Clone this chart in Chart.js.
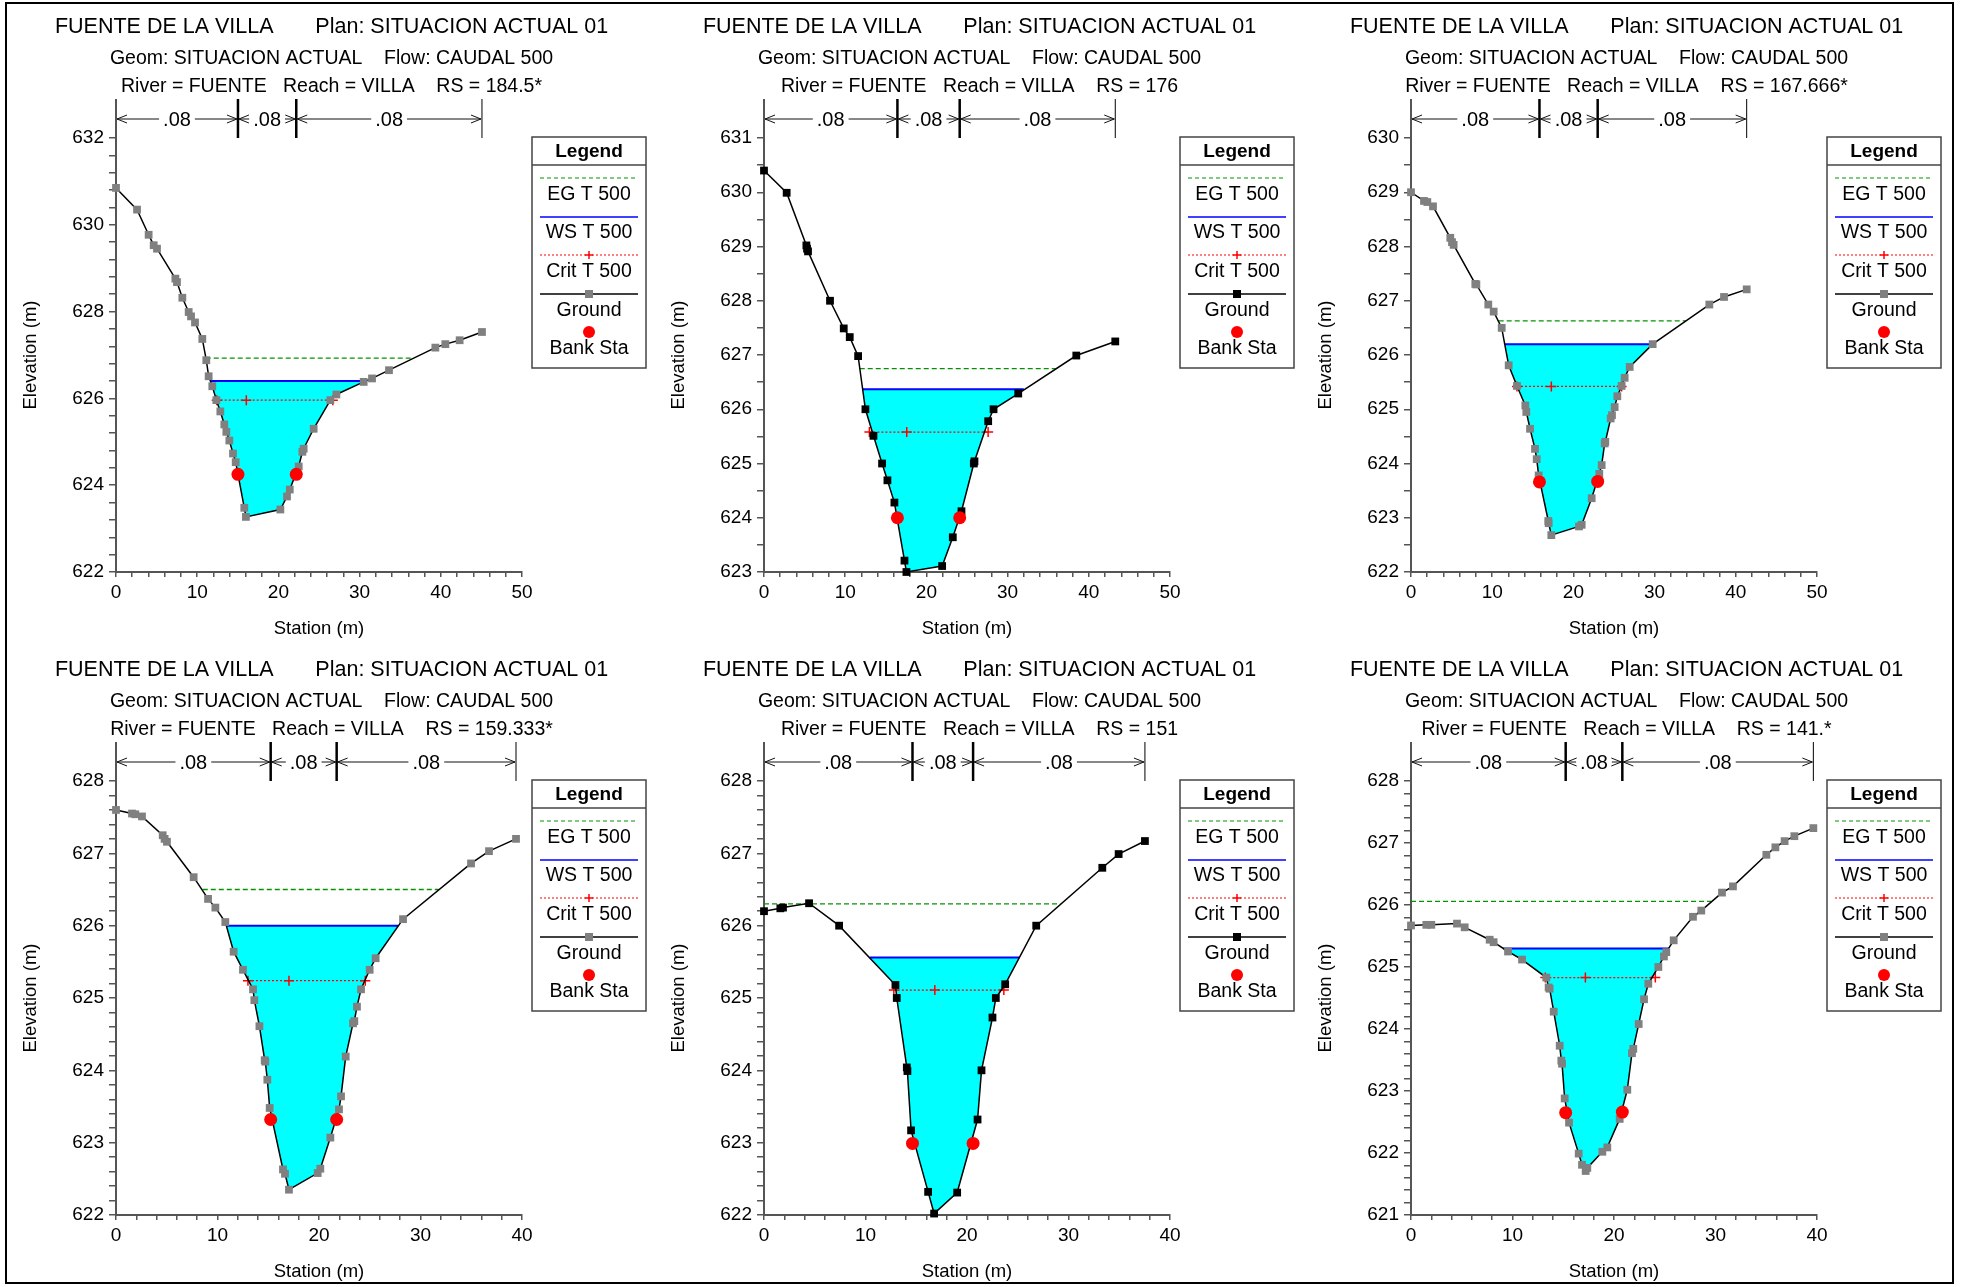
<!DOCTYPE html>
<html>
<head>
<meta charset="utf-8">
<script src="https://cdn.jsdelivr.net/npm/chart.js@4.4.0/dist/chart.umd.min.js"></script>
<style>
  html, body { margin: 0; padding: 0; background: #fff; }
  body { width: 1961px; height: 1287px; position: relative; overflow: hidden; }
  canvas { position: absolute; }
  #frame { position: absolute; left: 5px; top: 2px; width: 1945px; height: 1278px; border: 2px solid #000; pointer-events: none; }
</style>
</head>
<body>
<canvas id="c1" width="646" height="643" style="left:8px;top:0px"></canvas>
<canvas id="c2" width="646" height="643" style="left:656px;top:0px"></canvas>
<canvas id="c3" width="646" height="643" style="left:1303px;top:0px"></canvas>
<canvas id="c4" width="646" height="643" style="left:8px;top:643px"></canvas>
<canvas id="c5" width="646" height="643" style="left:656px;top:643px"></canvas>
<canvas id="c6" width="646" height="643" style="left:1303px;top:643px"></canvas>
<div id="frame"></div>
<script>
// ---- data (station m, elevation m) ----

// RS = 184.5*
const sta1 = [0, 2.59, 4.02, 4.64, 5.05, 7.31, 7.51, 8.17, 8.95, 9.24, 9.73, 10.63, 11.12, 11.41, 11.86, 12.36, 12.85, 13.34, 13.59, 13.96,
  14.41, 14.74, 15.8, 16.0, 20.24, 21.06, 21.4, 22.5, 22.95, 23.11, 24.34, 26.4, 27.14, 30.5, 31.53, 33.62, 39.33, 40.56, 42.32, 45.07];
const elev1 = [630.85, 630.35, 629.77, 629.53, 629.45, 628.76, 628.68, 628.32, 627.99, 627.89, 627.75, 627.37, 626.88, 626.51, 626.28, 625.96, 625.70, 625.40, 625.23, 625.03,
  624.73, 624.53, 623.48, 623.27, 623.44, 623.74, 623.90, 624.43, 624.77, 624.84, 625.30, 625.96, 626.09, 626.38, 626.46, 626.65, 627.17, 627.25, 627.34, 627.53];
const ws1 = [626.40, 11.6, 30.8];          // elevation, left sta, right sta
const eg1 = [626.93, 11.05, 36.45];
const crit1 = [625.96, 12.4, 16.05, 26.7]; // elevation, left, mid, right
const bankSta1 = [15.02, 22.2];
const bankElev1 = [624.25, 624.25];

// RS = 176
const sta2 = [0, 2.79, 5.22, 5.30, 5.42, 8.13, 9.82, 10.56, 11.59, 12.49, 13.48, 14.54, 15.20, 16.06, 17.30, 17.54,
  21.94, 23.25, 24.32, 25.84, 25.92, 27.61, 28.27, 31.31, 38.46, 43.26];
const elev2 = [630.40, 629.99, 629.02, 628.96, 628.91, 628.0, 627.49, 627.33, 626.98, 626.0, 625.51, 625.0, 624.69, 624.28, 623.21, 623.0,
  623.11, 623.64, 624.12, 625.0, 625.04, 625.78, 626.0, 626.29, 626.99, 627.25];
const ws2 = [626.37, 12.16, 32.0];
const eg2 = [626.75, 11.79, 35.9];
const crit2 = [625.58, 12.98, 17.58, 27.6];
const bankSta2 = [16.43, 24.1];
const bankElev2 = [624.0, 624.0];

// RS = 167.666*
const sta3 = [0, 1.60, 2.01, 2.71, 4.84, 5.05, 5.25, 7.92, 8.05, 9.52, 10.18, 11.17, 12.03, 13.05, 14.08, 14.20, 14.66, 15.27, 15.48, 15.72,
  16.91, 16.95, 17.28, 20.69, 21.02, 22.25, 23.19, 23.48, 23.85, 23.93, 24.59, 24.75, 25.08, 25.41, 25.94, 26.31, 26.93, 29.76, 36.74, 38.55, 41.34];
const elev3 = [629.0, 628.84, 628.82, 628.74, 628.16, 628.08, 628.03, 627.31, 627.30, 626.93, 626.80, 626.50, 625.81, 625.43, 625.07, 624.95, 624.64, 624.27, 624.08, 623.78,
  622.94, 622.90, 622.68, 622.84, 622.87, 623.36, 623.81, 623.97, 624.37, 624.40, 624.83, 624.89, 625.04, 625.24, 625.43, 625.58, 625.78, 626.20, 626.93, 627.07, 627.21];
const ws3 = [626.20, 11.58, 29.85];
const eg3 = [626.63, 10.8, 33.87];
const crit3 = [625.42, 13.05, 17.28, 25.94];
const bankSta3 = [15.82, 22.99];
const bankElev3 = [623.66, 623.67];

// RS = 159.333*
const sta4 = [0, 1.58, 1.90, 2.56, 4.60, 4.79, 5.02, 7.65, 9.07, 9.79, 10.77, 11.59, 12.51, 13.50, 13.63, 14.13, 14.65, 14.71, 14.91, 15.14,
  16.45, 16.65, 17.04, 19.87, 20.13, 21.12, 21.97, 22.17, 22.63, 23.35, 23.48, 23.74, 24.14, 24.99, 25.58, 28.28, 34.98, 36.75, 39.41];
const elev4 = [627.60, 627.55, 627.54, 627.51, 627.25, 627.20, 627.16, 626.67, 626.37, 626.25, 626.05, 625.64, 625.39, 625.12, 624.97, 624.61, 624.14, 624.12, 623.87, 623.48,
  622.63, 622.57, 622.35, 622.58, 622.64, 623.07, 623.46, 623.64, 624.19, 624.65, 624.68, 624.88, 625.12, 625.39, 625.55, 626.09, 626.86, 627.03, 627.20];
const ws4 = [626.0, 10.84, 27.8];
const eg4 = [626.5, 8.55, 31.79];
const crit4 = [625.24, 13.0, 17.04, 24.56];
const bankSta4 = [15.24, 21.74];
const bankElev4 = [623.32, 623.32];

// RS = 151
const sta5 = [0, 1.61, 1.87, 4.44, 7.40, 12.95, 13.08, 14.07, 14.13, 14.49, 16.17, 16.76, 19.03, 21.04, 21.43, 22.51, 22.84, 23.76, 26.82, 33.33, 34.94, 37.53];
const elev5 = [626.20, 626.24, 626.25, 626.31, 626.0, 625.18, 625.0, 624.04, 623.99, 623.17, 622.32, 622.02, 622.31, 623.32, 624.0, 624.73, 625.0, 625.19, 626.0, 626.80, 626.99, 627.17];
const ws5 = [625.56, 10.39, 25.18];
const eg5 = [626.30, 0, 29.22];
const crit5 = [625.11, 12.79, 16.83, 23.63];
const bankSta5 = [14.63, 20.6];
const bankElev5 = [622.99, 622.99];

// RS = 141.*
const sta6 = [0, 1.51, 2.0, 4.53, 5.29, 7.75, 8.14, 9.56, 10.94, 13.33, 13.56, 13.66, 14.06, 14.65, 14.81, 14.88, 15.14, 15.57, 16.52, 16.85, 17.21, 17.37,
  18.85, 19.34, 20.56, 21.31, 21.77, 21.9, 22.43, 22.96, 23.38, 24.37, 24.92, 25.15, 25.88, 27.78, 28.60, 30.64, 31.72, 35.01, 35.90, 36.81, 37.77, 39.64];
const elev6 = [625.67, 625.68, 625.68, 625.70, 625.64, 625.44, 625.40, 625.25, 625.12, 624.83, 624.67, 624.65, 624.28, 623.73, 623.49, 623.44, 622.88, 622.49, 621.99, 621.81, 621.71, 621.76,
  622.02, 622.09, 622.55, 623.02, 623.61, 623.68, 624.08, 624.48, 624.73, 625.0, 625.17, 625.24, 625.43, 625.81, 625.91, 626.20, 626.30, 626.81, 626.93, 627.03, 627.11, 627.24];
const ws6 = [625.30, 9.08, 25.39];
const eg6 = [626.06, 0, 29.59];
const crit6 = [624.83, 13.23, 17.18, 24.07];
const bankSta6 = [15.24, 20.82];
const bankElev6 = [622.65, 622.66];

const rsLabels = ['184.5*', '176', '167.666*', '159.333*', '151', '141.*'];
const manningN = ['.08', '.08', '.08'];
const xMaxes = [50, 50, 50, 40, 40, 40];
const yRanges = [[622, 632], [623, 631], [622, 630], [622, 628], [622, 628], [621, 628]];
const yMajors = [2, 1, 1, 1, 1, 1];
const yMinors = [0.4, 0.5, 0.5, 0.2, 0.2, 0.2];

const FONT = '"Liberation Sans", Arial, Helvetica, sans-serif';
Chart.defaults.font.family = FONT;
Chart.defaults.color = '#000';

const EG_COLOR = 'rgb(0,150,0)';
const WS_COLOR = '#0000ff';
const CRIT_COLOR = '#ff0000';
const WATER_COLOR = '#00ffff';

function pts(xs, ys) { return xs.map((x, i) => ({ x: x, y: ys[i] })); }
function isMajor(v, step) { return Math.abs(v / step - Math.round(v / step)) < 1e-6; }

function line(ctx, x0, y0, x1, y1) {
  ctx.beginPath(); ctx.moveTo(x0, y0); ctx.lineTo(x1, y1); ctx.stroke();
}

function arrowHead(ctx, x, y, dir) {
  ctx.beginPath();
  ctx.moveTo(x + dir * 10, y - 4);
  ctx.lineTo(x, y);
  ctx.lineTo(x + dir * 10, y + 4);
  ctx.stroke();
}

function makePlugin(p) {
  return {
    id: 'hecras',
    afterDraw(chart) {
      const ctx = chart.ctx;
      const area = chart.chartArea;
      const xs = chart.scales.x;
      ctx.save();

      // header
      const cx = 323.5;
      ctx.fillStyle = '#000';
      ctx.textAlign = 'center';
      ctx.textBaseline = 'middle';
      ctx.font = '21.5px ' + FONT;
      ctx.fillText('FUENTE DE LA VILLA       Plan: SITUACION ACTUAL 01', cx, 27.5);
      ctx.font = '19.5px ' + FONT;
      ctx.fillText('Geom: SITUACION ACTUAL    Flow: CAUDAL 500', cx, 58.5);
      ctx.fillText('River = FUENTE   Reach = VILLA    RS = ' + p.rs, cx, 86.5);

      // Manning's n strip above the plot
      const yTop = area.top - 39, yArr = area.top - 19;
      ctx.strokeStyle = '#555'; ctx.lineWidth = 2;
      line(ctx, area.left, yTop, area.left, area.top);
      ctx.strokeStyle = '#000'; ctx.lineWidth = 2.5;
      p.bankSta.forEach(b => { const x = xs.getPixelForValue(b); line(ctx, x, yTop, x, area.top); });
      const xEnd = xs.getPixelForValue(p.sta[p.sta.length - 1]);
      ctx.lineWidth = 1;
      line(ctx, xEnd, yTop, xEnd, area.top);

      const bounds = [area.left, xs.getPixelForValue(p.bankSta[0]), xs.getPixelForValue(p.bankSta[1]), xEnd];
      ctx.font = '20px ' + FONT;
      ctx.strokeStyle = '#111'; ctx.lineWidth = 1;
      for (let i = 0; i < 3; i++) {
        const xa = bounds[i] + 1, xb = bounds[i + 1] - 1;
        const mid = (xa + xb) / 2;
        const half = ctx.measureText(manningN[i]).width / 2 + 4;
        line(ctx, xa, yArr, mid - half, yArr);
        line(ctx, mid + half, yArr, xb, yArr);
        arrowHead(ctx, xa, yArr, 1);
        arrowHead(ctx, xb, yArr, -1);
        ctx.fillText(manningN[i], mid, yArr + 1);
      }

      // legend box
      const bx = area.right + 10, bw = 114, by = area.top - 1, bh = 231;
      const lc = bx + bw / 2, l0 = bx + 8, l1 = bx + bw - 8;
      ctx.fillStyle = '#fff';
      ctx.fillRect(bx, by, bw, bh);
      ctx.strokeStyle = '#444'; ctx.lineWidth = 1.5;
      ctx.strokeRect(bx, by, bw, bh);
      line(ctx, bx, by + 28, bx + bw, by + 28);
      ctx.fillStyle = '#000';
      ctx.font = 'bold 19px ' + FONT;
      ctx.fillText('Legend', lc, by + 14.5);
      ctx.font = '19.5px ' + FONT;

      ctx.strokeStyle = EG_COLOR; ctx.lineWidth = 1.2; ctx.setLineDash([4, 3]);
      line(ctx, l0, by + 41, l1, by + 41);
      ctx.strokeStyle = WS_COLOR; ctx.lineWidth = 1.6; ctx.setLineDash([]);
      line(ctx, l0, by + 80, l1, by + 80);
      ctx.strokeStyle = CRIT_COLOR; ctx.lineWidth = 1; ctx.setLineDash([2, 2]);
      line(ctx, l0, by + 118, l1, by + 118);
      ctx.setLineDash([]); ctx.lineWidth = 1.5;
      line(ctx, lc - 4, by + 118, lc + 4, by + 118);
      line(ctx, lc, by + 114, lc, by + 122);
      ctx.strokeStyle = '#000'; ctx.lineWidth = 1.5;
      line(ctx, l0, by + 157, l1, by + 157);
      ctx.fillStyle = p.marker;
      ctx.fillRect(lc - 4, by + 153, 8, 8);
      ctx.fillStyle = CRIT_COLOR;
      ctx.beginPath(); ctx.arc(lc, by + 195, 6, 0, Math.PI * 2); ctx.fill();

      ctx.fillStyle = '#000';
      ctx.fillText('EG T 500', lc, by + 58);
      ctx.fillText('WS T 500', lc, by + 96);
      ctx.fillText('Crit T 500', lc, by + 134.5);
      ctx.fillText('Ground', lc, by + 174);
      ctx.fillText('Bank Sta', lc, by + 212);
      ctx.restore();
    }
  };
}

function makeChart(id, p) {
  const ground = pts(p.sta, p.elev);
  const [wsE, wsL, wsR] = p.ws;
  const [egE, egL, egR] = p.eg;
  const [crE, crL, crM, crR] = p.crit;
  const water = [{ x: wsL, y: wsE }].concat(ground.filter(q => q.x > wsL && q.x < wsR), [{ x: wsR, y: wsE }]);

  new Chart(document.getElementById(id), {
    type: 'line',
    data: {
      datasets: [
        { label: 'water', data: water, fill: { value: wsE }, backgroundColor: WATER_COLOR,
          borderColor: 'rgba(0,0,0,0)', borderWidth: 0, pointRadius: 0, order: 6 },
        { label: 'EG T 500', data: [{ x: egL, y: egE }, { x: egR, y: egE }], borderColor: EG_COLOR,
          borderWidth: 1.3, borderDash: [5, 3], pointRadius: 0, fill: false, order: 5 },
        { label: 'WS T 500', data: [{ x: wsL, y: wsE }, { x: wsR, y: wsE }], borderColor: WS_COLOR,
          borderWidth: 2, pointRadius: 0, fill: false, order: 4 },
        { label: 'Crit T 500', data: [{ x: crL, y: crE }, { x: crM, y: crE }, { x: crR, y: crE }], borderColor: CRIT_COLOR,
          borderWidth: 1.3, borderDash: [2, 2], pointStyle: 'cross', pointRadius: 5, pointBorderWidth: 1.5,
          pointBorderColor: CRIT_COLOR, fill: false, order: 3 },
        { label: 'Ground', data: ground, borderColor: '#000', borderWidth: 1.5, pointStyle: 'rect', pointRadius: 5.5,
          pointBackgroundColor: p.marker, pointBorderWidth: 0, fill: false, order: 2 },
        { label: 'Bank Sta', data: pts(p.bankSta, p.bankElev), showLine: false, pointStyle: 'circle', pointRadius: 6.5,
          pointBackgroundColor: CRIT_COLOR, pointBorderWidth: 0, order: 1 }
      ]
    },
    options: {
      responsive: false,
      animation: false,
      events: [],
      clip: false,
      elements: { line: { tension: 0 } },
      layout: { padding: { top: 138, left: 4, right: 132, bottom: 0 } },
      plugins: { legend: { display: false }, tooltip: { enabled: false }, title: { display: false } },
      scales: {
        x: {
          type: 'linear', min: 0, max: p.xMax,
          afterFit: s => { s.height = 71; },
          ticks: { stepSize: 2, autoSkip: false, maxRotation: 0, padding: 4, color: '#000', font: { size: 19 },
            callback: v => isMajor(v, 10) ? String(Math.round(v)) : '' },
          grid: { drawOnChartArea: false, tickLength: 5, color: '#555', lineWidth: 1.5 },
          border: { color: '#555', width: 2 },
          title: { display: true, text: 'Station (m)', color: '#000', font: { size: 18.5 }, padding: { top: 0, bottom: 3 } }
        },
        y: {
          type: 'linear', min: p.yRange[0], max: p.yRange[1],
          afterFit: s => { s.width = 104; },
          ticks: { stepSize: p.yMinor, autoSkip: false, padding: 5, color: '#000', font: { size: 19 },
            callback: v => isMajor(v, p.yMajor) ? String(Math.round(v)) : '' },
          grid: { drawOnChartArea: false, tickLength: 7, color: '#555', lineWidth: 1.5 },
          border: { color: '#555', width: 2 },
          title: { display: true, text: 'Elevation (m)', color: '#000', font: { size: 18.5 }, padding: { top: 8, bottom: 0 } }
        }
      }
    },
    plugins: [makePlugin(p)]
  });
}

const stations = [sta1, sta2, sta3, sta4, sta5, sta6];
const elevations = [elev1, elev2, elev3, elev4, elev5, elev6];
const wsLines = [ws1, ws2, ws3, ws4, ws5, ws6];
const egLines = [eg1, eg2, eg3, eg4, eg5, eg6];
const critLines = [crit1, crit2, crit3, crit4, crit5, crit6];
const bankStas = [bankSta1, bankSta2, bankSta3, bankSta4, bankSta5, bankSta6];
const bankElevs = [bankElev1, bankElev2, bankElev3, bankElev4, bankElev5, bankElev6];
const markerColors = ['#808080', '#000000', '#808080', '#808080', '#000000', '#808080'];

for (let i = 0; i < 6; i++) {
  makeChart('c' + (i + 1), {
    rs: rsLabels[i], sta: stations[i], elev: elevations[i],
    ws: wsLines[i], eg: egLines[i], crit: critLines[i],
    bankSta: bankStas[i], bankElev: bankElevs[i],
    xMax: xMaxes[i], yRange: yRanges[i], yMajor: yMajors[i], yMinor: yMinors[i],
    marker: markerColors[i]
  });
}
</script>
</body>
</html>
